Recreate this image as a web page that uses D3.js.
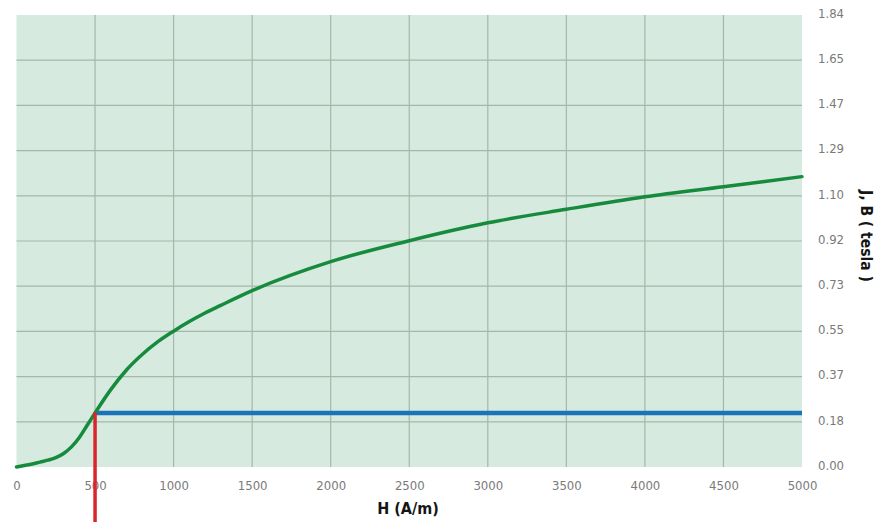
<!DOCTYPE html>
<html>
<head>
<meta charset="utf-8">
<script src="https://cdn.jsdelivr.net/npm/d3@7"></script>
<style>
  html, body { margin: 0; padding: 0; background: #ffffff; }
  svg { display: block; }
</style>
</head>
<body>
<svg id="chart" width="877" height="522"></svg>
<script>
// Magnetisation curve: field strength H (A/m) against flux density J, B (tesla)
const fieldH = [0, 50, 100, 150, 200, 250, 300, 350, 400, 450, 500, 600, 700, 800, 900,
                1000, 1100, 1200, 1300, 1500, 2000, 2500, 3000, 3500, 4000, 4500, 5000];
const fluxB  = [0, 0.006, 0.012, 0.02, 0.028, 0.038, 0.055, 0.082, 0.12, 0.17, 0.22,
                0.315, 0.395, 0.458, 0.51, 0.553, 0.592, 0.627, 0.658, 0.718, 0.836,
                0.921, 0.994, 1.049, 1.100, 1.141, 1.182];

// Working point marked on the curve
const workH = [500];
const workB = [0.22];

const xTicks = [0, 500, 1000, 1500, 2000, 2500, 3000, 3500, 4000, 4500, 5000];
const yTicks = [0, 0.184, 0.368, 0.552, 0.736, 0.92, 1.104, 1.288, 1.472, 1.656, 1.84];
const yTickLabels = ["0.00", "0.18", "0.37", "0.55", "0.73", "0.92", "1.10", "1.29", "1.47", "1.65", "1.84"];

const W = 877, H = 522;
const plot = { left: 16.5, right: 802, top: 15, bottom: 467 };

const svg = d3.select("#chart");
const x = d3.scaleLinear().domain([0, 5000]).range([plot.left, plot.right]);
const y = d3.scaleLinear().domain([0, 1.84]).range([plot.bottom, plot.top]);

const tickFont = "'Liberation Sans Narrow', 'DejaVu Sans Condensed', sans-serif";
const titleFont = "'DejaVu Sans Condensed', 'Liberation Sans Narrow', sans-serif";

// plot background
svg.append("rect")
  .attr("x", plot.left).attr("y", plot.top)
  .attr("width", plot.right - plot.left).attr("height", plot.bottom - plot.top)
  .attr("fill", "#d6eadf");

// grid lines (interior only)
const grid = svg.append("g").attr("stroke", "#a5b7ab").attr("stroke-width", 1.2);
grid.selectAll("line.v").data(xTicks.slice(1, -1)).join("line")
  .attr("x1", d => x(d)).attr("x2", d => x(d))
  .attr("y1", plot.top).attr("y2", plot.bottom);
grid.selectAll("line.h").data(yTicks.slice(1, -1)).join("line")
  .attr("y1", d => y(d)).attr("y2", d => y(d))
  .attr("x1", plot.left).attr("x2", plot.right);

// bottom axis labels
const xAxis = d3.axisBottom(x).tickValues(xTicks).tickSize(0).tickPadding(0).tickFormat(d3.format("d"));
const gx = svg.append("g").attr("transform", `translate(0,${plot.bottom})`).call(xAxis);
gx.select(".domain").remove();
gx.selectAll("text")
  .attr("y", 23).attr("dy", 0)
  .attr("fill", "#7a7a7a")
  .style("font-family", tickFont).style("font-size", "13px");

// right axis labels
const yAxis = d3.axisRight(y).tickValues(yTicks).tickSize(0).tickPadding(0)
  .tickFormat((d, i) => yTickLabels[i]);
const gy = svg.append("g").attr("transform", `translate(818,0)`).call(yAxis);
gy.select(".domain").remove();
gy.selectAll("text")
  .attr("x", 0).attr("dy", "0.18em")
  .attr("text-anchor", "start")
  .attr("fill", "#7a7a7a")
  .style("font-family", tickFont).style("font-size", "13px");

// axis titles
svg.append("text")
  .attr("x", 408).attr("y", 514)
  .attr("text-anchor", "middle")
  .style("font-family", titleFont).style("font-weight", "bold").style("font-size", "16px")
  .attr("fill", "#151515")
  .text("H (A/m)");

svg.append("text")
  .attr("transform", "translate(861,236) rotate(90)")
  .attr("text-anchor", "middle")
  .style("font-family", titleFont).style("font-weight", "bold").style("font-size", "15.5px")
  .attr("fill", "#151515")
  .text("J, B ( tesla )");

// horizontal marker at the working flux density
svg.append("line")
  .attr("x1", x(workH[0])).attr("x2", x(5000))
  .attr("y1", y(workB[0])).attr("y2", y(workB[0]))
  .attr("stroke", "#1b74b9").attr("stroke-width", 4.5);

// magnetisation curve
const pts = fieldH.map((h, i) => [h, fluxB[i]]);
svg.append("path")
  .datum(pts)
  .attr("fill", "none")
  .attr("stroke", "#178b3d")
  .attr("stroke-width", 3.5)
  .attr("stroke-linecap", "round")
  .attr("d", d3.line().x(d => x(d[0])).y(d => y(d[1])).curve(d3.curveMonotoneX));

// vertical marker at the working field strength, running down past the axis
svg.append("line")
  .attr("x1", x(workH[0])).attr("x2", x(workH[0]))
  .attr("y1", y(workB[0]) - 1).attr("y2", H)
  .attr("stroke", "#d8262b").attr("stroke-width", 3.5);
</script>
</body>
</html>
